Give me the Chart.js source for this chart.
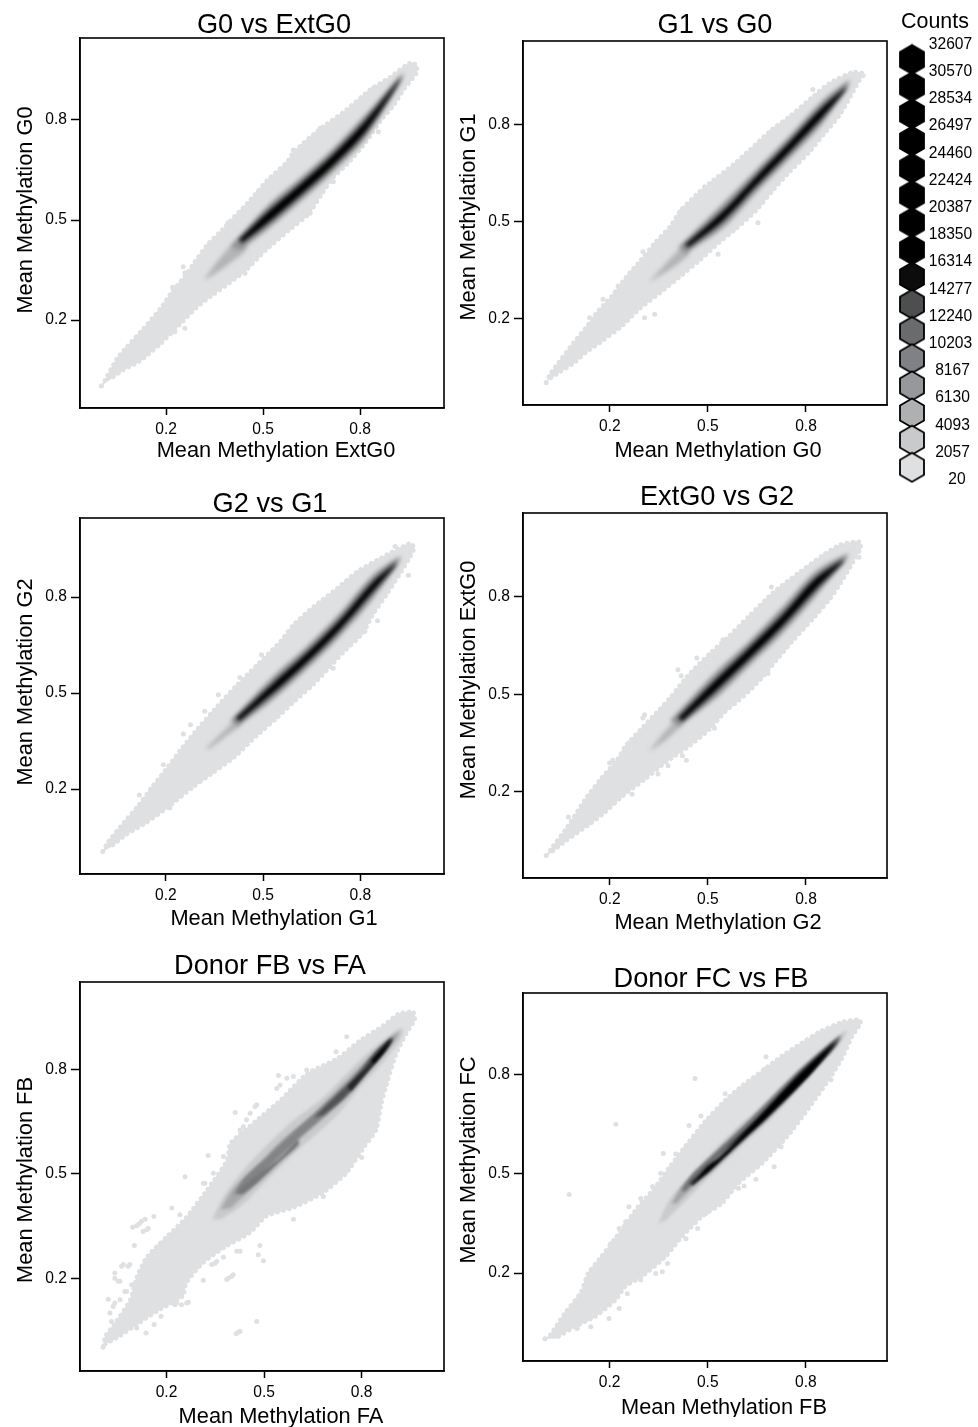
<!DOCTYPE html>
<html>
<head>
<meta charset="utf-8">
<title>Mean methylation hexbin panels</title>
<script src="https://cdn.jsdelivr.net/npm/chart.js@4/dist/chart.umd.min.js"></script>
<style>
  html, body { margin: 0; background: #fff; }
  #page { position: relative; width: 978px; height: 1427px; overflow: hidden; }
  canvas { position: absolute; }
</style>
</head>
<body>
<div id="page"></div>
<script>
const tickValues = [0.2, 0.5, 0.8];

// Legend
const countLabels = ['32607', '30570', '28534', '26497', '24460', '22424', '20387', '18350', '16314',
  '14277', '12240', '10203', '8167', '6130', '4093', '2057', '20'];
const countColors = ['#000000', '#000000', '#000000', '#000000', '#000000', '#000000', '#000000', '#000000',
  '#0c0c0d', '#4d4e50', '#6a6b6d', '#808184', '#97989b', '#aeb0b2', '#c9cacc', '#dfe0e2'];

// G0 vs ExtG0, outlines of the density levels
const g0Outer = [[0, .002], [.047, .085], [.073, .115], [.129, .175], [.181, .235], [.217, .285], [.263, .34], [.284, .37],
  [.325, .425], [.366, .465], [.397, .498], [.449, .55], [.485, .59], [.511, .62], [.573, .675], [.593, .705], [.676, .775],
  [.748, .825], [.83, .892], [.892, .93], [.954, .973], [.975, .965], [.975, .94], [.939, .895], [.902, .84], [.866, .8],
  [.82, .735], [.769, .675], [.717, .625], [.681, .575], [.64, .515], [.583, .47], [.511, .41], [.444, .345], [.397, .31],
  [.346, .275], [.294, .235], [.243, .185], [.181, .125], [.119, .075], [.067, .048], [.026, .02]];
const g0Tail = [[.317, .32], [.366, .385], [.428, .445], [.449, .415], [.397, .37], [.346, .335]];
const g0Halo = [[.4, .42], [.511, .54], [.614, .625], [.717, .715], [.82, .82], [.935, .94], [.82, .75], [.717, .645],
  [.614, .555], [.511, .47], [.43, .41]];
const g0Core = [[.426, .442], [.511, .522], [.614, .607], [.717, .697], [.82, .802], [.928, .928], [.82, .768], [.717, .663],
  [.614, .573], [.511, .488], [.433, .43]];
const g0Strays = [[0, .002], [.253, .36], [.258, .342], [.22, .298], [.335, .43], [.392, .492], [.485, .585], [.593, .71],
  [.676, .775], [.841, .895], [.258, .175], [.227, .165], [.645, .52], [.444, .34], [.856, .765], [.717, .615]];

// G1 vs G0
const g1Outer = [[.005, .001], [.015, .027], [.041, .063], [.087, .125], [.128, .175], [.153, .212], [.204, .269], [.25, .331],
  [.291, .378], [.337, .435], [.383, .485], [.413, .532], [.464, .584], [.505, .62], [.577, .677], [.628, .723], [.694, .785],
  [.75, .826], [.821, .888], [.872, .929], [.944, .963], [.98, .957], [.964, .934], [.939, .888], [.903, .826], [.857, .77],
  [.811, .713], [.75, .651], [.699, .594], [.648, .532], [.587, .476], [.536, .434], [.475, .378], [.413, .326], [.357, .28],
  [.291, .228], [.24, .177], [.179, .13], [.128, .094], [.087, .058], [.046, .032], [.01, .008]];
const g1Tail = [[.319, .311], [.373, .372], [.434, .429], [.444, .403], [.393, .357], [.342, .326]];
const g1Halo = [[.41, .42], [.546, .555], [.648, .66], [.75, .765], [.852, .875], [.935, .935], [.852, .805], [.75, .695],
  [.648, .59], [.546, .48], [.43, .4]];
const g1Core = [[.429, .427], [.546, .532], [.648, .64], [.75, .746], [.852, .855], [.926, .916], [.852, .824], [.75, .715],
  [.648, .61], [.546, .501], [.439, .419]];
const g1Strays = [[.005, .001], [.301, .406], [.179, .259], [.225, .3], [.138, .202], [.306, .202], [.337, .213], [.653, .496],
  [.821, .908], [.531, .398], [.421, .537], [.49, .607]];

// G2 vs G1
const g2Outer = [[.005, .005], [.017, .031], [.058, .083], [.115, .151], [.156, .208], [.197, .26], [.243, .322], [.289, .38],
  [.356, .458], [.418, .526], [.48, .589], [.552, .662], [.593, .715], [.655, .771], [.727, .828], [.788, .88], [.86, .922],
  [.953, .969], [.968, .955], [.953, .922], [.922, .87], [.886, .813], [.84, .745], [.81, .688], [.747, .625], [.706, .58],
  [.655, .525], [.593, .469], [.542, .42], [.48, .365], [.413, .3], [.346, .25], [.284, .205], [.212, .146], [.14, .094],
  [.079, .057], [.027, .016]];
const g2Tail = [[.32, .323], [.377, .38], [.423, .422], [.428, .401], [.377, .359], [.336, .328]];
const g2Halo = [[.4, .415], [.531, .553], [.634, .645], [.737, .75], [.84, .87], [.925, .925], [.84, .797], [.737, .678],
  [.634, .575], [.531, .48], [.42, .395]];
const g2Core = [[.416, .422], [.531, .531], [.634, .625], [.737, .729], [.84, .849], [.912, .906], [.84, .818], [.737, .698],
  [.634, .594], [.531, .5], [.426, .412]];
const g2Strays = [[.005, .005], [.118, .182], [.192, .276], [.254, .372], [.276, .401], [.32, .443], [.362, .495], [.428, .549],
  [.907, .958], [.948, .868], [.853, .726], [.814, .693], [.716, .578], [.403, .299], [.212, .141], [.495, .62]];

// ExtG0 vs G2
const extOuter = [[.005, .004], [.02, .027], [.066, .089], [.122, .176], [.168, .237], [.224, .304], [.245, .34], [.291, .391],
  [.342, .445], [.383, .49], [.434, .555], [.505, .627], [.556, .673], [.628, .745], [.699, .815], [.781, .878], [.852, .93],
  [.903, .961], [.964, .971], [.969, .95], [.944, .904], [.908, .843], [.873, .791], [.821, .73], [.76, .663], [.709, .602],
  [.668, .552], [.628, .51], [.587, .473], [.556, .448], [.505, .391], [.444, .34], [.372, .29], [.311, .24], [.24, .186],
  [.179, .13], [.138, .099], [.066, .048], [.02, .012]];
const extTail = [[.32, .325], [.373, .391], [.413, .427], [.423, .412], [.373, .361], [.337, .335]];
const extHalo = [[.385, .42], [.526, .57], [.628, .665], [.73, .77], [.832, .88], [.93, .93], [.832, .805], [.73, .69],
  [.628, .59], [.526, .49], [.41, .4]];
const extCore = [[.408, .427], [.526, .547], [.628, .645], [.73, .747], [.832, .86], [.918, .914], [.832, .825], [.73, .712],
  [.628, .61], [.526, .512], [.421, .417]];
const extStrays = [[.005, .004], [.073, .123], [.199, .289], [.209, .297], [.258, .35], [.306, .437], [.301, .427], [.408, .576],
  [.418, .557], [.466, .612], [.546, .668], [.694, .83], [.962, .922], [.684, .564], [.52, .396], [.422, .311], [.434, .297],
  [.378, .28], [.347, .255], [.268, .193]];

// Donor FB vs FA
const fbOuter = [[.005, .006], [.01, .034], [.041, .073], [.087, .139], [.108, .206], [.139, .263], [.2, .321], [.257, .373],
  [.323, .454], [.385, .54], [.395, .588], [.477, .655], [.549, .712], [.631, .788], [.723, .831], [.795, .884], [.867, .927],
  [.913, .96], [.959, .965], [.964, .941], [.939, .903], [.908, .845], [.882, .769], [.862, .702], [.846, .626], [.81, .578],
  [.754, .502], [.682, .445], [.59, .402], [.508, .378], [.457, .33], [.385, .292], [.313, .244], [.262, .187], [.251, .149],
  [.18, .11], [.118, .073], [.057, .034], [.01, .01]];
const fbBandA = [[.34, .369], [.376, .436], [.438, .512], [.51, .584], [.592, .655], [.674, .713], [.746, .78], [.817, .846],
  [.889, .899], [.925, .918], [.92, .889], [.864, .818], [.797, .751], [.735, .679], [.664, .617], [.582, .55], [.5, .474],
  [.428, .407], [.366, .369]];
const fbBandB = [[.366, .398], [.407, .46], [.479, .522], [.551, .593], [.633, .655], [.715, .732], [.787, .799], [.858, .866],
  [.915, .909], [.905, .885], [.848, .823], [.766, .732], [.694, .67], [.612, .603], [.53, .531], [.458, .455], [.397, .402]];
const fbBandC = [[.407, .441], [.438, .488], [.51, .55], [.592, .622], [.674, .689], [.746, .751], [.817, .823], [.879, .88],
  [.9, .894], [.884, .866], [.828, .804], [.756, .727], [.684, .665], [.602, .598], [.51, .517], [.438, .445]];
const fbBandD = [[.417, .45], [.479, .498], [.551, .55], [.602, .598], [.607, .584], [.551, .536], [.479, .474], [.428, .441]];
const fbBandE = [[.653, .66], [.715, .718], [.787, .784], [.848, .856], [.894, .889], [.879, .861], [.817, .794], [.746, .718],
  [.684, .67]];
const fbBandF = [[.756, .751], [.828, .818], [.889, .885], [.874, .856], [.823, .799], [.766, .737]];
const fbBandG = [[.828, .823], [.889, .885], [.894, .887], [.868, .851], [.838, .818]];
const fbStrays = [[.005, .003], [.108, .351], [.123, .364], [.161, .378], [.139, .34], [.216, .402], [.241, .383], [.257, .492],
  [.313, .473], [.328, .553], [.375, .55], [.411, .676], [.431, .616], [.446, .655], [.477, .698], [.544, .782], [.539, .745],
  [.59, .779], [.631, .798], [.754, .893], [.721, .85], [.101, .295], [.18, .297], [.062, .235], [.082, .235], [.041, .201],
  [.057, .192], [.093, .182], [.072, .163], [.021, .141], [.041, .13], [.026, .101], [.031, .077], [.108, .058], [.137, .044],
  [.162, .068], [.183, .092], [.226, .125], [.262, .13], [.313, .195], [.385, .197], [.4, .206], [.349, .244], [.375, .261],
  [.416, .278], [.487, .295], [.482, .268], [.498, .251], [.477, .077], [.426, .049], [.414, .042], [.59, .37], [.682, .435],
  [.749, .502], [.8, .547], [.096, .347], [.116, .357], [.134, .37], [.128, .335], [.144, .344], [.041, .216], [.051, .192],
  [.067, .24], [.087, .24], [.077, .163], [.057, .139], [.036, .12], [.231, .13], [.246, .125], [.267, .132], [.39, .201],
  [.405, .211], [.426, .278], [.354, .249], [.339, .24], [.421, .046], [.436, .635], [.426, .626], [.457, .674], [.472, .693],
  [.549, .755], [.57, .774], [.318, .473], [.344, .502]];

// Donor FC vs FB
const fcOuter = [[.002, .002], [.02, .018], [.06, .078], [.111, .143], [.132, .199], [.168, .244], [.219, .31], [.285, .4],
  [.331, .451], [.382, .521], [.428, .581], [.494, .662], [.555, .725], [.606, .768], [.668, .813], [.724, .855], [.77, .885],
  [.841, .929], [.912, .959], [.963, .966], [.969, .954], [.943, .914], [.912, .848], [.872, .783], [.81, .697], [.749, .617],
  [.668, .531], [.596, .471], [.545, .41], [.484, .37], [.423, .31], [.372, .249], [.3, .189], [.249, .159], [.219, .118],
  [.157, .068], [.096, .038], [.035, .002]];
const fcBandA = [[.348, .35], [.383, .421], [.445, .491], [.516, .567], [.587, .637], [.669, .708], [.75, .788], [.832, .859],
  [.924, .934], [.919, .914], [.852, .838], [.771, .748], [.689, .662], [.618, .597], [.526, .511], [.445, .431], [.373, .36]];
const fcBandB = [[.389, .41], [.424, .466], [.496, .531], [.567, .602], [.649, .682], [.73, .763], [.812, .838], [.908, .919],
  [.903, .904], [.842, .838], [.761, .748], [.679, .662], [.598, .592], [.516, .516], [.445, .451], [.404, .41]];
const fcBandC = [[.419, .451], [.455, .501], [.536, .577], [.618, .652], [.7, .733], [.781, .813], [.863, .884], [.905, .914],
  [.888, .879], [.822, .813], [.75, .738], [.669, .662], [.587, .597], [.516, .536], [.455, .471], [.43, .446]];
const fcBandD = [[.445, .471], [.506, .531], [.577, .597], [.649, .662], [.72, .738], [.791, .813], [.873, .884], [.898, .904],
  [.852, .844], [.781, .773], [.71, .708], [.628, .632], [.547, .567], [.485, .511], [.45, .466]];
const fcBandE = [[.45, .469], [.496, .521], [.536, .55], [.598, .612], [.669, .684], [.74, .758], [.812, .828], [.888, .894],
  [.822, .81], [.75, .735], [.679, .666], [.618, .61], [.542, .54], [.496, .498], [.455, .466]];
const fcStrays = [[.002, .002], [.076, .437], [.219, .649], [.461, .787], [.364, .561], [.402, .559], [.443, .645], [.479, .674],
  [.553, .741], [.678, .853], [.673, .815], [.295, .425], [.259, .4], [.249, .355], [.229, .335], [.203, .289], [.356, .501],
  [.331, .461], [.703, .521], [.647, .483], [.611, .463], [.594, .456], [.494, .38], [.469, .335], [.433, .304], [.377, .229],
  [.341, .199], [.361, .204], [.295, .179], [.254, .138], [.229, .093], [.198, .063], [.101, .033], [.142, .038], [.122, .063],
  [.724, .581], [.877, .783]];

const outerColor = '#dfe0e2';
const FONT = '"Liberation Sans", Arial, sans-serif';
const page = document.getElementById('page');

// margins round each plot box, the axis labels live in here
const ML = 80, MT = 30, MR = 4, MB = 56;

const panels = [
  { box: [80, 38, 364, 370], xr: [-.066, 1.059], yr: [-.064, 1.046], blur: 2.2,
    title: 'G0 vs ExtG0', titleAt: [274, 24], xLabel: 'Mean Methylation ExtG0', xAt: [276, 449], yLabel: 'Mean Methylation G0', yAt: [25, 210],
    outer: g0Outer, strays: g0Strays,
    layers: [[g0Tail, '#b3b4b6'], [g0Halo, '#929395'], [g0Core, '#000']] },
  { box: [523, 41, 364, 364], xr: [-.066, 1.048], yr: [-.068, 1.058], blur: 2.2,
    title: 'G1 vs G0', titleAt: [715, 24], xLabel: 'Mean Methylation G0', xAt: [718, 449], yLabel: 'Mean Methylation G1', yAt: [468, 217],
    outer: g1Outer, strays: g1Strays,
    layers: [[g1Tail, '#b3b4b6'], [g1Halo, '#929395'], [g1Core, '#000']] },
  { box: [80, 518, 364, 356], xr: [-.065, 1.058], yr: [-.065, 1.047], blur: 2.2,
    title: 'G2 vs G1', titleAt: [270, 503], xLabel: 'Mean Methylation G1', xAt: [274, 917], yLabel: 'Mean Methylation G2', yAt: [25, 682],
    outer: g2Outer, strays: g2Strays,
    layers: [[g2Tail, '#b3b4b6'], [g2Halo, '#929395'], [g2Core, '#000']] },
  { box: [523, 513, 364, 365], xr: [-.066, 1.048], yr: [-.065, 1.058], blur: 2.2,
    title: 'ExtG0 vs G2', titleAt: [717, 496], xLabel: 'Mean Methylation G2', xAt: [718, 921], yLabel: 'Mean Methylation ExtG0', yAt: [468, 680],
    outer: extOuter, strays: extStrays,
    layers: [[extTail, '#b3b4b6'], [extHalo, '#929395'], [extCore, '#000']] },
  { box: [80, 982, 364, 389], xr: [-.066, 1.053], yr: [-.065, 1.05], blur: 1.6,
    title: 'Donor FB vs FA', titleAt: [270, 965], xLabel: 'Mean Methylation FA', xAt: [281, 1415], yLabel: 'Mean Methylation FB', yAt: [25, 1180],
    outer: fbOuter, strays: fbStrays,
    layers: [[fbBandA, '#c9cacc'], [fbBandB, '#a7a8aa'], [fbBandC, '#838486'], [fbBandD, '#767779'], [fbBandE, '#505153'], [fbBandF, '#232324'], [fbBandG, '#000']] },
  { box: [523, 993, 364, 368], xr: [-.065, 1.048], yr: [-.065, 1.045], blur: 1.6,
    title: 'Donor FC vs FB', titleAt: [711, 978], xLabel: 'Mean Methylation FB', xAt: [724, 1406], yLabel: 'Mean Methylation FC', yAt: [468, 1160],
    outer: fcOuter, strays: fcStrays,
    layers: [[fcBandA, '#c9cacc'], [fcBandB, '#a3a4a6'], [fcBandC, '#717274'], [fcBandD, '#2e2e2f'], [fcBandE, '#000']] }
];

function addCanvas(left, top, width, height) {
  const c = document.createElement('canvas');
  c.width = width;
  c.height = height;
  c.style.left = left + 'px';
  c.style.top = top + 'px';
  c.style.width = width + 'px';
  c.style.height = height + 'px';
  page.appendChild(c);
  return c;
}

function polygon(points, color) {
  return { data: points, showLine: true, fill: 'shape', backgroundColor: color, borderWidth: 0, pointRadius: 0, tension: 0.3 };
}

// the outer grey gets a dotted edge of its own colour, gives the bumpy hexbin border
function outerPolygon(points) {
  return { data: points, showLine: true, fill: 'shape', backgroundColor: outerColor, borderColor: outerColor,
    borderWidth: 3.5, borderDash: [1, 5], borderCapStyle: 'round', pointRadius: 0, tension: 0.2 };
}

// blur only the density levels, the flat outer grey keeps its crisp edge
function panelPlugin(p, originX, originY) {
  return {
    id: 'panelPlugin',
    afterDatasetDraw(chart, args) {
      if (args.index === p.layers.length) chart.ctx.filter = 'blur(' + p.blur + 'px)';
    },
    afterDatasetsDraw(chart) {
      chart.ctx.filter = 'none';
    },
    afterDraw(chart) {
      const ctx = chart.ctx, a = chart.chartArea;
      ctx.save();
      ctx.strokeStyle = '#000';
      ctx.lineWidth = 1.6;
      ctx.strokeRect(a.left, a.top, a.right - a.left, a.bottom - a.top);
      ctx.fillStyle = '#000';
      ctx.textAlign = 'center';
      ctx.textBaseline = 'middle';
      ctx.font = '27.2px ' + FONT;
      ctx.fillText(p.title, p.titleAt[0] - originX, p.titleAt[1] - originY + 1.5);
      ctx.font = '21.8px ' + FONT;
      ctx.fillText(p.xLabel, p.xAt[0] - originX, p.xAt[1] - originY + 1.5);
      ctx.translate(p.yAt[0] - originX + 1, p.yAt[1] - originY);
      ctx.rotate(-Math.PI / 2);
      ctx.fillText(p.yLabel, 0, 0);
      ctx.restore();
    }
  };
}

function axis(range, isX) {
  return {
    type: 'linear',
    min: range[0],
    max: range[1],
    position: isX ? 'bottom' : 'left',
    afterBuildTicks: s => { s.ticks = tickValues.map(v => ({ value: v })); },
    afterFit: s => { if (isX) s.height = MB; else s.width = ML; },
    grid: { drawOnChartArea: false, drawTicks: true, tickLength: isX ? 7 : 9, tickColor: '#000', tickWidth: 1.5 },
    border: { display: true, color: '#000', width: 1.5 },
    ticks: {
      color: '#000',
      maxRotation: 0,
      padding: isX ? 5 : 4,
      font: { family: FONT, size: 15.6 },
      callback: v => v.toFixed(1)
    }
  };
}

panels.forEach(p => {
  const [bx, by, bw, bh] = p.box;
  const left = bx - ML, top = by - MT;
  const canvas = addCanvas(left, top, bw + ML + MR, bh + MT + MB);
  // first dataset ends up on top, the outer grey goes last
  const datasets = p.layers.slice().reverse().map(l => polygon(l[0], l[1]));
  datasets.push({ data: p.strays, showLine: false, pointRadius: 2.5, pointBorderWidth: 0, pointBackgroundColor: outerColor });
  datasets.push(outerPolygon(p.outer));
  new Chart(canvas, {
    type: 'scatter',
    data: { datasets },
    options: {
      responsive: false,
      animation: false,
      layout: { autoPadding: false, padding: { left: 0, top: MT, right: MR, bottom: 0 } },
      plugins: { legend: { display: false }, tooltip: { enabled: false } },
      scales: { x: axis(p.xr, true), y: axis(p.yr, false) }
    },
    plugins: [panelPlugin(p, left, top)]
  });
});

// Counts legend
function hexStyle(color) {
  const c = document.createElement('canvas');
  c.width = 28;
  c.height = 32;
  const g = c.getContext('2d');
  const pts = [[14, 1.5], [26, 8.5], [26, 23.5], [14, 30.5], [2, 23.5], [2, 8.5]];
  g.beginPath();
  pts.forEach((q, i) => (i ? g.lineTo(q[0], q[1]) : g.moveTo(q[0], q[1])));
  g.closePath();
  g.fillStyle = color;
  g.fill();
  g.lineWidth = 1.8;
  g.strokeStyle = '#000';
  g.stroke();
  return c;
}

const legendCanvas = addCanvas(890, 0, 88, 500);
new Chart(legendCanvas, {
  type: 'scatter',
  data: {
    datasets: [{
      data: countColors.map((c, i) => ({ x: 0, y: i + 0.55 })),
      pointStyle: countColors.map(hexStyle),
      pointRadius: 14,
      clip: false
    }]
  },
  options: {
    responsive: false,
    animation: false,
    layout: { autoPadding: false, padding: 0 },
    plugins: { legend: { display: false }, tooltip: { enabled: false } },
    scales: {
      x: { display: false, min: -22, max: 66 },
      y: { display: false, reverse: true, min: -1.636, max: 16.75 }
    }
  },
  plugins: [{
    id: 'countLabels',
    afterDraw(chart) {
      const ctx = chart.ctx, y = chart.scales.y;
      ctx.save();
      ctx.fillStyle = '#000';
      ctx.textBaseline = 'middle';
      ctx.textAlign = 'center';
      ctx.font = '21.4px ' + FONT;
      ctx.fillText('Counts', 45, 22);
      ctx.font = '15.6px ' + FONT;
      countLabels.forEach((label, i) => {
        const cx = label.length === 5 ? 60.5 : label.length === 4 ? 62.5 : 67;
        ctx.fillText(label, cx, y.getPixelForValue(i));
      });
      ctx.restore();
    }
  }]
});
</script>
</body>
</html>
